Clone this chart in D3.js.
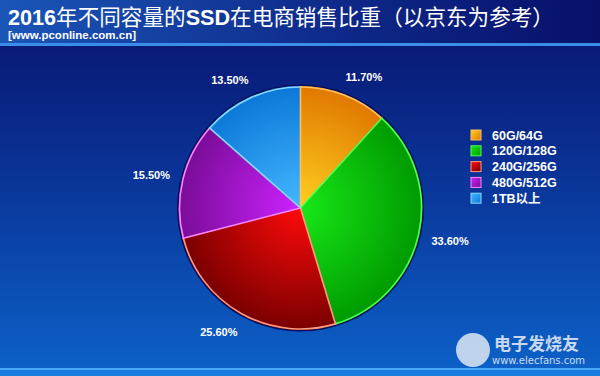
<!DOCTYPE html>
<html lang="zh">
<head>
    <meta charset="UTF-8">
    <title>2016年不同容量的SSD在电商销售比重</title>
    <script src="https://d3js.org/d3.v7.min.js"></script>
    <style>
        body { margin: 0; background: #0a1a70; }
        svg { display: block; }
        .lbl { font-family: "Liberation Sans", Arial, sans-serif; font-weight: bold; font-size: 11px; fill: #fff; }
        .leg { font-family: "Liberation Sans", "Noto Sans CJK SC", sans-serif; font-weight: bold; font-size: 12.5px; fill: #fff; }
    </style>
</head>
<body>
<div id="chart"></div>
<script>
    // data
    const categories = ["60G/64G", "120G/128G", "240G/256G", "480G/512G", "1TB以上"];
    const shares = [11.7, 33.6, 25.6, 15.5, 13.5];
    const labels = ["11.70%", "33.60%", "25.60%", "15.50%", "13.50%"];
    const innerColors = ["#ffd020", "#18e818", "#ff0a0a", "#cc22ff", "#44b8ff"];
    const outerColors = ["#e07800", "#009a00", "#7a0000", "#7a0c98", "#0c78d8"];
    const edgeColors = ["#ffc060", "#50ff50", "#ff9a80", "#ff88ff", "#88d8ff"];

    const width = 600, height = 376;
    const cx = 300.5, cy = 208, r = 122;

    const svg = d3.select("#chart").append("svg")
        .attr("width", width)
        .attr("height", height);

    const defs = svg.append("defs");

    // background gradients
    const bg = defs.append("linearGradient").attr("id", "bg")
        .attr("x1", 0).attr("y1", 0).attr("x2", 0).attr("y2", 1);
    bg.append("stop").attr("offset", "0%").attr("stop-color", "#08126a");
    bg.append("stop").attr("offset", "45%").attr("stop-color", "#0a3296");
    bg.append("stop").attr("offset", "100%").attr("stop-color", "#0c62c8");

    const head = defs.append("linearGradient").attr("id", "head")
        .attr("x1", 0).attr("y1", 0).attr("x2", 1).attr("y2", 0);
    head.append("stop").attr("offset", "0%").attr("stop-color", "#1a56b8");
    head.append("stop").attr("offset", "55%").attr("stop-color", "#0e2a8a");
    head.append("stop").attr("offset", "100%").attr("stop-color", "#08106a");

    svg.append("rect").attr("width", width).attr("height", height).attr("fill", "url(#bg)");
    svg.append("rect").attr("width", width).attr("height", 44).attr("fill", "url(#head)");
    svg.append("rect").attr("y", 43).attr("width", width).attr("height", 3).attr("fill", "#3a8ee8");
    svg.append("rect").attr("y", 368).attr("width", width).attr("height", 8).attr("fill", "#1a7ee0");
    svg.append("rect").attr("y", 368).attr("width", width).attr("height", 2).attr("fill", "#48a8f8");

    // title, latin parts bold
    const title = svg.append("text")
        .attr("x", 8).attr("y", 24.5)
        .attr("fill", "#fff")
        .style("font-size", "21.6px");
    const parts = [["2016", true], ["年不同容量的", false], ["SSD", true], ["在电商销售比重（以京东为参考）", false]];
    parts.forEach(([t, b]) => {
        title.append("tspan")
            .style("font-family", b ? "'Liberation Sans', Arial, sans-serif" : "'Noto Sans CJK SC', sans-serif")
            .style("font-weight", b ? "bold" : "normal")
            .text(t);
    });
    svg.append("text")
        .attr("x", 8).attr("y", 38.5)
        .attr("fill", "#fff")
        .style("font-family", "'Liberation Sans', Arial, sans-serif")
        .style("font-weight", "bold")
        .style("font-size", "11.5px")
        .text("[www.pconline.com.cn]");

    // slice gradients (radial from pie centre) and legend swatch gradients
    categories.forEach((c, i) => {
        const g = defs.append("radialGradient").attr("id", "sl" + i)
            .attr("gradientUnits", "userSpaceOnUse")
            .attr("cx", 0).attr("cy", 0).attr("r", r);
        g.append("stop").attr("offset", "0%").attr("stop-color", innerColors[i]);
        g.append("stop").attr("offset", "100%").attr("stop-color", outerColors[i]);
        const lg = defs.append("linearGradient").attr("id", "lg" + i)
            .attr("x1", 0).attr("y1", 0).attr("x2", 1).attr("y2", 1);
        lg.append("stop").attr("offset", "0%").attr("stop-color", innerColors[i]);
        lg.append("stop").attr("offset", "100%").attr("stop-color", outerColors[i]);
    });

    const pie = d3.pie().sort(null).value(d => d);
    const arcs = pie(shares);
    const arc = d3.arc().innerRadius(0).outerRadius(r);
    const rimArc = d3.arc().innerRadius(r - 1).outerRadius(r - 1);
    const labelArc = d3.arc().innerRadius(r + 18).outerRadius(r + 18);

    const g = svg.append("g").attr("transform", `translate(${cx},${cy})`);
    // thin dark rim behind the pie
    g.append("circle").attr("r", r + 1.5).attr("fill", "#061060");

    g.selectAll("path.slice")
        .data(arcs)
        .join("path")
        .attr("class", "slice")
        .attr("d", arc)
        .attr("fill", (d, i) => `url(#sl${i})`);

    // light edges of each slice
    g.selectAll("path.edge")
        .data(arcs)
        .join("path")
        .attr("class", "edge")
        .attr("d", rimArc)
        .attr("fill", "none")
        .attr("stroke", (d, i) => edgeColors[i])
        .attr("stroke-width", 1.6);
    g.selectAll("line.sep")
        .data(arcs)
        .join("line")
        .attr("class", "sep")
        .attr("x1", 0).attr("y1", 0)
        .attr("x2", d => r * Math.sin(d.startAngle))
        .attr("y2", d => -r * Math.cos(d.startAngle))
        .attr("stroke", (d, i) => edgeColors[i])
        .attr("stroke-width", 1.6);

    // percent labels, pushed sideways like outside-end labels
    g.selectAll("text.lbl")
        .data(arcs)
        .join("text")
        .attr("class", "lbl")
        .attr("transform", d => {
            const [x, y] = labelArc.centroid(d);
            return `translate(${x + (x > 0 ? 13 : -13)},${y + (y > 0 ? 2 : 0)})`;
        })
        .attr("text-anchor", "middle")
        .attr("dy", "0.35em")
        .text((d, i) => labels[i]);

    // legend
    const legend = svg.append("g").attr("transform", "translate(471,130)");
    const row = legend.selectAll("g")
        .data(categories)
        .join("g")
        .attr("transform", (d, i) => `translate(0,${i * 15.8})`);
    row.append("rect")
        .attr("width", 10).attr("height", 10)
        .attr("fill", (d, i) => `url(#lg${i})`)
        .attr("stroke", (d, i) => edgeColors[i])
        .attr("stroke-width", 1);
    row.append("text")
        .attr("class", "leg")
        .attr("x", 21).attr("y", 5)
        .attr("dy", "0.36em")
        .text(d => d);

    // watermark
    const wm = svg.append("g").attr("opacity", 0.85);
    wm.append("circle").attr("cx", 473).attr("cy", 350).attr("r", 17).attr("fill", "#dfe8f4");
    wm.append("text").attr("x", 494).attr("y", 350)
        .attr("fill", "#e8eef8")
        .style("font-family", "'Noto Sans CJK SC', sans-serif")
        .style("font-weight", "bold")
        .style("font-size", "17px")
        .text("电子发烧友");
    wm.append("text").attr("x", 492).attr("y", 364)
        .attr("fill", "#e8eef8")
        .style("font-family", "'DejaVu Sans', sans-serif")
        .style("font-size", "10px")
        .text("www.elecfans.com");
</script>
</body>
</html>
